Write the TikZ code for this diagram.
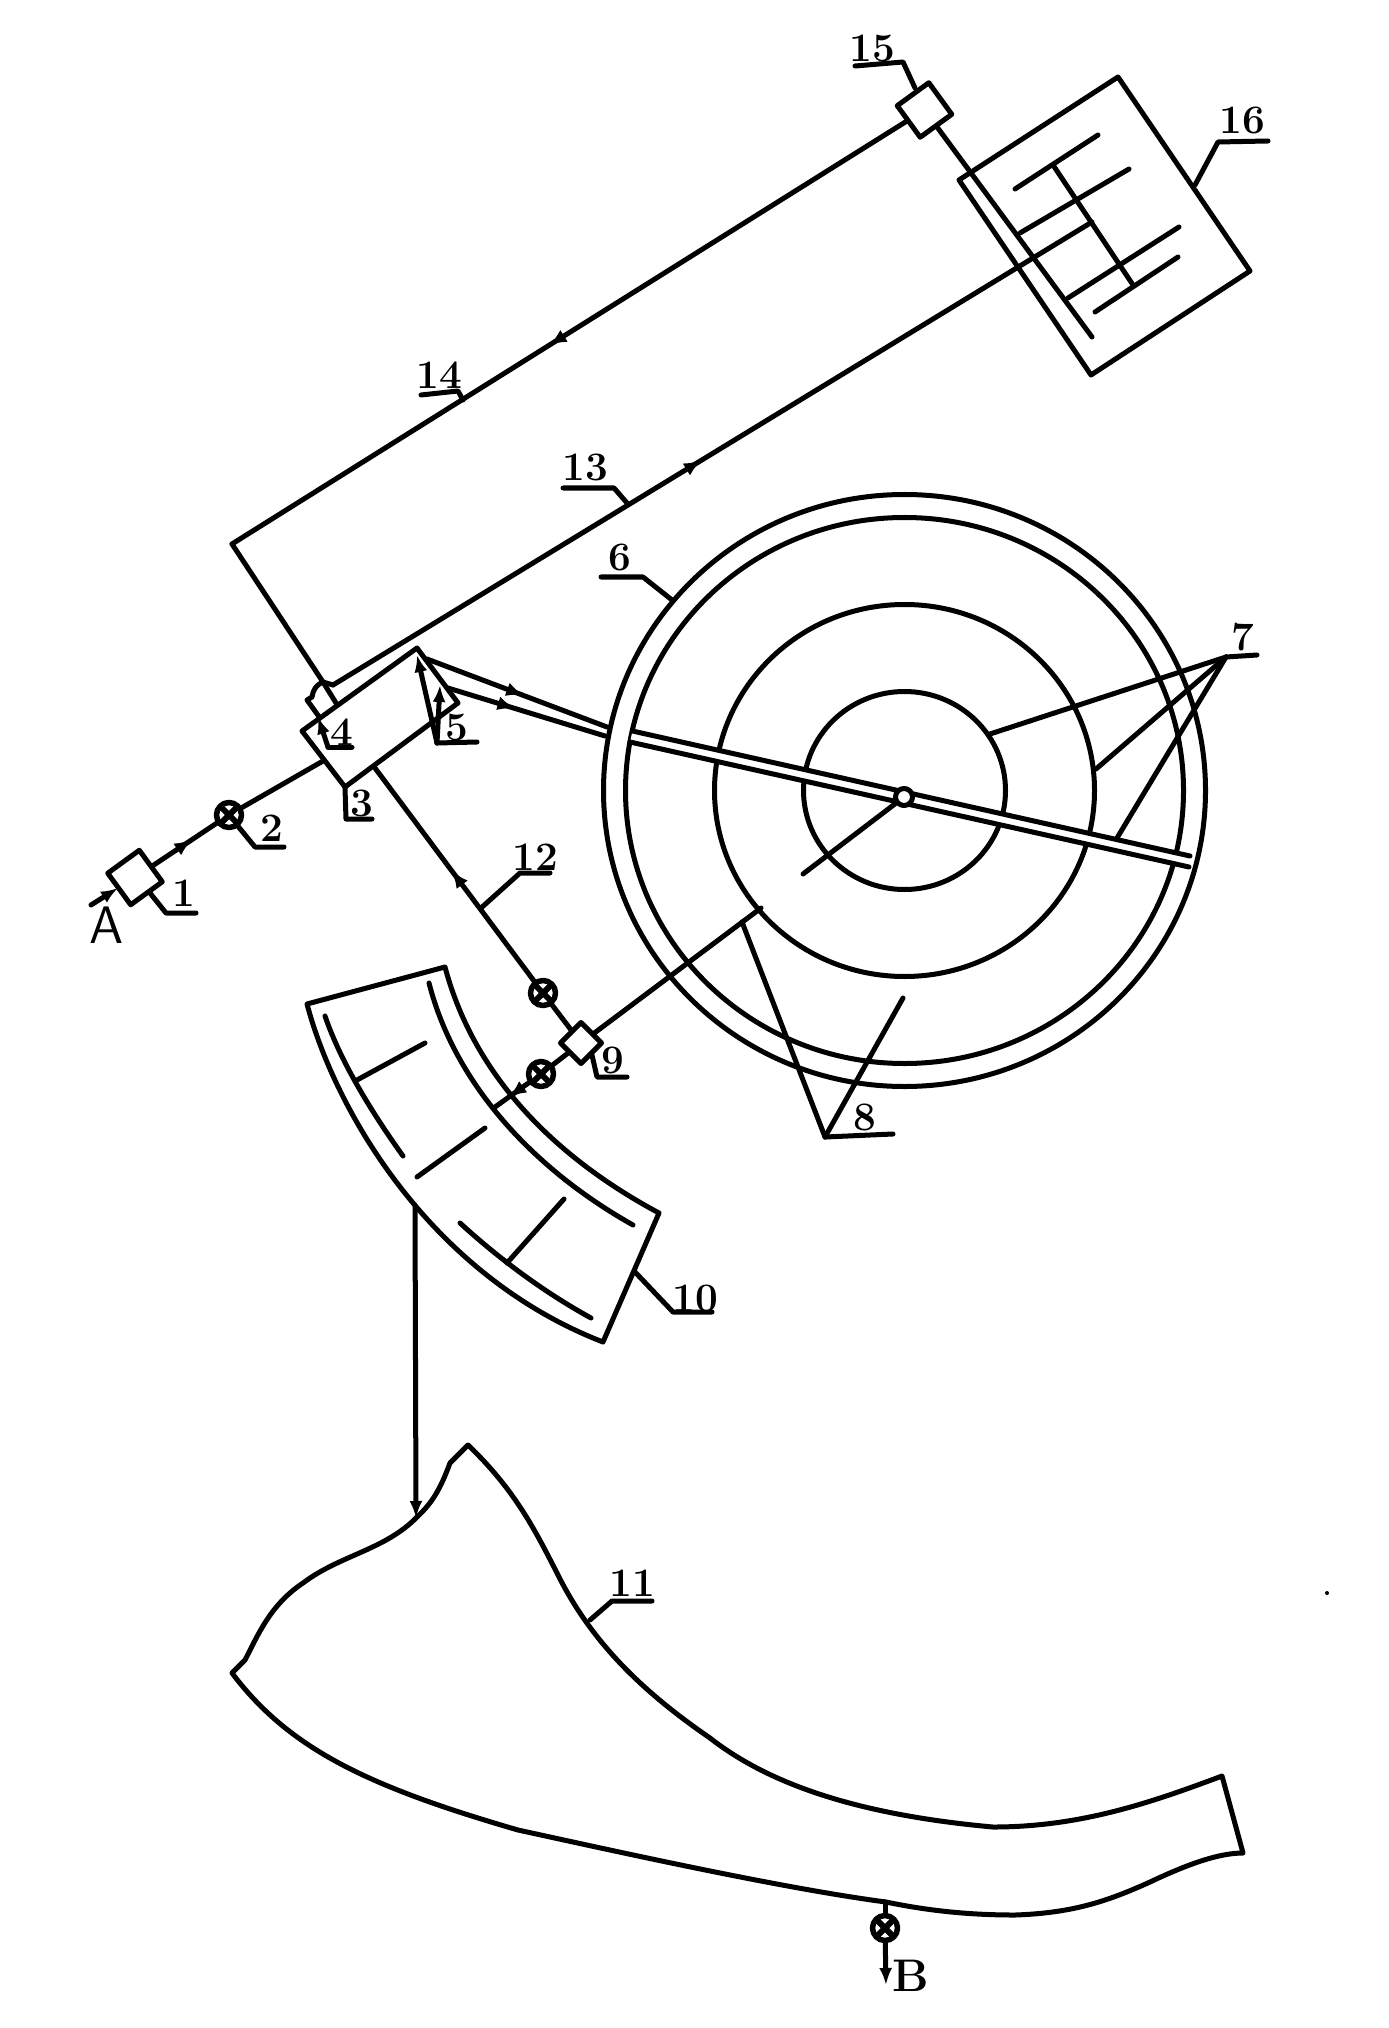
\documentclass[tikz,border=0pt]{standalone}
\usetikzlibrary{arrows.meta,decorations.markings}
\tikzset{
  pipe/.style={draw=black, line width=0.05cm},
  tiptop/.style={-{Latex[length=0.17cm,width=0.13cm]}},
  midtip/.style={postaction={decorate}, decoration={markings,
      mark=at position #1 with {\arrow{Latex[length=0.18cm,width=0.14cm]}}}},
  unit/.style={draw=black, line width=0.05cm, fill=white, rectangle, rotate=36,
      minimum size=0.39cm, inner sep=0pt},
  valve/.style={draw=black, line width=0.055cm, fill=white, circle, minimum size=0.25cm,
      inner sep=0pt, path picture={
        \draw[line width=0.06cm] (path picture bounding box.north east) -- (path picture bounding box.south west);
        \draw[line width=0.06cm] (path picture bounding box.north west) -- (path picture bounding box.south east);}},
  tag/.style={font=\bfseries\fontsize{11.5}{12}\selectfont, inner sep=0pt},
}
\begin{document}
\begin{tikzpicture}[x=0.01cm, y=-0.01cm, line join=round, line cap=round]
  \useasboundingbox (0,0) rectangle (1388,2028);
  % rings
  \coordinate (mid) at (904.5,790.5);
  \draw[pipe] (mid) ellipse [x radius=301, y radius=296];
  \draw[pipe] (mid) ellipse [x radius=279, y radius=273];
  \draw[pipe] (mid) ellipse [x radius=190, y radius=186];
  \draw[pipe] (mid) ellipse [x radius=101, y radius=99];
  % shaft through the rings
  \coordinate (sa) at (632.5,731);
  \coordinate (sb) at (1190,856);
  \coordinate (sc) at (630,742);
  \coordinate (sd) at (1189,867);
  \fill[white] (sa) -- (sb) -- (sd) -- (sc) -- cycle;
  \draw[pipe] (sa) -- (sb);
  \draw[pipe] (sc) -- (sd);
  \node[draw=black, line width=0.05cm, fill=white, circle, minimum size=0.17cm, inner sep=0pt] (hub) at (904,797) {};
  \coordinate (armend) at (803,874);
  \path[pipe] (hub) edge (armend);
  % units and valves
  \node[unit] (box1) at (135,877.5) {};
  \node[unit, rotate=9, minimum size=0.29cm] (box9) at (581,1043) {};
  \node[unit] (box15) at (924.5,110) {};
  \node[valve] (vlv2) at (229,815) {};
  \node[valve] (vlv9a) at (543,993) {};
  \node[valve] (vlv9b) at (541,1074) {};
  \node[valve] (vlvb) at (885,1928) {};
  % inlet
  \coordinate (ina) at (91,905);
  \coordinate (inb) at (118,888);
  \coordinate (boxin) at (323,761);
  \path[pipe] (ina) edge[tiptop] (inb);
  \path[pipe] (box1) edge[midtip=0.62] (vlv2);
  \path[pipe] (vlv2) edge (boxin);
  % box 3
  \coordinate (c3a) at (302,731);
  \coordinate (c3b) at (417,648);
  \coordinate (c3c) at (458,703);
  \coordinate (c3d) at (345,787);
  \draw[pipe] (c3a) -- (c3b) -- (c3c) -- (c3d) -- cycle;
  % box 4
  \coordinate (c4a) at (323,682);
  \coordinate (c4b) at (312,697);
  \coordinate (c4c) at (307,700);
  \coordinate (c4d) at (320,718);
  \coordinate (c4e) at (336,703);
  \draw[pipe] (c4e) -- (c4a) .. controls (316,685) and (313,690) .. (c4b) -- (c4c) -- (c4d);
  % long pipes
  \coordinate (corner) at (232,544);
  \coordinate (top13) at (333,685);
  \coordinate (end13) at (1092,222);
  \path[pipe] (c4a) edge (corner);
  \path[pipe] (box15) edge[midtip=0.53] (corner);
  \draw[pipe] (c4a) -- (top13);
  \path[pipe] (top13) edge[midtip=0.486] (end13);
  % pipes to the shaft
  \coordinate (p6a) at (427,659);
  \coordinate (p6b) at (607,727);
  \coordinate (p6c) at (448,688);
  \coordinate (p6d) at (605,736);
  \path[pipe] (p6a) edge[midtip=0.54] (p6b);
  \path[pipe] (p6c) edge[midtip=0.43] (p6d);
  % pipe 12 and feed 8
  \coordinate (p12a) at (375,768);
  \coordinate (p8a) at (761,908);
  \coordinate (p10a) at (495,1107);
  \path[pipe] (vlv9a) edge[midtip=0.52] (p12a);
  \path[pipe] (vlv9a) edge (box9);
  \path[pipe] (box9) edge (p8a);
  \path[pipe] (box9) edge (vlv9b);
  \path[pipe] (vlv9b) edge[midtip=0.6] (p10a);
  % box 16
  \coordinate (q1) at (1118,77);
  \coordinate (q2) at (1250,271);
  \coordinate (q3) at (1091,375);
  \coordinate (q4) at (959,180);
  \coordinate (rail) at (1092,337);
  \draw[pipe] (q1) -- (q2) -- (q3) -- (q4) -- cycle;
  \path[pipe] (box15) edge (rail);
  \coordinate (ra) at (1098,135);
  \coordinate (rb) at (1015,189);
  \coordinate (sp1) at (1053,165);
  \coordinate (sp2) at (1133,285);
  \coordinate (rc) at (1129,169);
  \coordinate (rd) at (1020,233);
  \coordinate (re) at (1179,227);
  \coordinate (rf) at (1068,298);
  \coordinate (rg) at (1178,257);
  \coordinate (rh) at (1095,312);
  \path[pipe] (ra) edge (rb);
  \path[pipe] (sp1) edge (sp2);
  \path[pipe] (rc) edge (rd);
  \path[pipe] (re) edge (rf);
  \path[pipe] (rg) edge (rh);
  % bed 10
  \draw[pipe] (445,967) -- (307,1004) .. controls (335,1110) and (430,1275) .. (603,1342)
      -- (659,1213) .. controls (560,1160) and (475,1080) .. (445,967);
  \draw[pipe] (325,1016) .. controls (340,1060) and (370,1110) .. (403,1156);
  \draw[pipe] (429,983) .. controls (455,1085) and (535,1170) .. (633,1225);
  \draw[pipe] (460,1223) .. controls (495,1255) and (540,1290) .. (591,1318);
  \coordinate (b1) at (357,1080);
  \coordinate (b2) at (425,1043);
  \coordinate (b3) at (485,1128);
  \coordinate (b4) at (417,1177);
  \coordinate (b5) at (507,1263);
  \coordinate (b6) at (564,1199);
  \path[pipe] (b1) edge (b2);
  \path[pipe] (b3) edge (b4);
  \path[pipe] (b5) edge (b6);
  % hopper 11
  \coordinate (drop) at (415,1205);
  \coordinate (land) at (416,1518);
  \path[pipe] (drop) edge[tiptop] (land);
  \draw[pipe] (1222,1776) .. controls (1150,1803) and (1080,1827) .. (993,1827)
      .. controls (860,1815) and (770,1785) .. (710,1738)
      .. controls (640,1690) and (590,1640) .. (557,1573)
      .. controls (535,1530) and (515,1490) .. (468,1445)
      -- (450,1463) .. controls (440,1490) and (432,1503) .. (417,1517)
      .. controls (385,1550) and (340,1555) .. (303,1583)
      .. controls (270,1605) and (258,1635) .. (245,1660) -- (232,1673)
      .. controls (290,1750) and (370,1787) .. (518,1830)
      .. controls (610,1850) and (780,1888) .. (886,1902)
      .. controls (925,1910) and (965,1915) .. (1015,1915)
      .. controls (1075,1913) and (1110,1900) .. (1150,1882)
      .. controls (1190,1863) and (1220,1853) .. (1243,1853) -- cycle;
  \coordinate (outa) at (885,1902);
  \coordinate (outb) at (886,1985);
  \path[pipe] (outa) edge (vlvb);
  \path[pipe] (vlvb) edge[tiptop] (outb);
  \fill (1327,1593) circle [radius=2];
  % tags
  \node[tag] (tag1) at (184,893) {1};
  \draw[pipe] (150,893) -- (166,913) -- (196,913);
  \node[tag] (tag2) at (272,828) {2};
  \draw[pipe] (237,825) -- (255,847) -- (284,847);
  \node[tag] (tag3) at (362,803) {3};
  \draw[pipe] (345,788) -- (346,819) -- (372,819);
  \node[tag] (tag4) at (342,732) {4};
  \coordinate (t4) at (328,747);
  \coordinate (t4a) at (318,717);
  \path[pipe] (t4) edge[tiptop] (t4a);
  \draw[pipe] (t4) -- (352,747);
  \node[tag] (tag5) at (457,727) {5};
  \coordinate (t5) at (437,743);
  \coordinate (t5a) at (417,655);
  \coordinate (t5b) at (440,685);
  \path[pipe] (t5) edge[tiptop] (t5a);
  \path[pipe] (t5) edge[tiptop] (t5b);
  \draw[pipe] (t5) -- (477,742);
  \node[tag] (tag6) at (620,557) {6};
  \draw[pipe] (672,600) -- (643,577) -- (601,577);
  \node[tag] (tag7) at (1243,637) {7};
  \coordinate (t7) at (1226,657);
  \coordinate (t7a) at (990,734);
  \coordinate (t7b) at (1096,769);
  \coordinate (t7c) at (1117,838);
  \path[pipe] (t7) edge (t7a);
  \path[pipe] (t7) edge (t7b);
  \path[pipe] (t7) edge (t7c);
  \draw[pipe] (t7) -- (1257,655);
  \node[tag] (tag8) at (865,1117) {8};
  \coordinate (t8) at (825,1137);
  \coordinate (t8a) at (742,922);
  \coordinate (t8b) at (903,998);
  \path[pipe] (t8) edge (t8a);
  \path[pipe] (t8) edge (t8b);
  \draw[pipe] (t8) -- (893,1134);
  \node[tag] (tag9) at (613,1060) {9};
  \draw[pipe] (592,1055) -- (597,1077) -- (627,1077);
  \node[tag] (tag10) at (695,1298) {10};
  \draw[pipe] (635,1272) -- (673,1312) -- (712,1312);
  \node[tag] (tag11) at (632,1583) {11};
  \draw[pipe] (590,1620) -- (612,1601) -- (652,1601);
  \node[tag] (tag12) at (535,857) {12};
  \draw[pipe] (481,908) -- (520,873) -- (550,873);
  \node[tag] (tag13) at (585,467) {13};
  \draw[pipe] (627,503) -- (614,488) -- (563,488);
  \node[tag] (tag14) at (439,375) {14};
  \draw[pipe] (463,400) -- (458,391) -- (421,395);
  \node[tag] (tag15) at (872,48) {15};
  \draw[pipe] (915,88) -- (903,62) -- (855,66);
  \node[tag] (tag16) at (1242,120) {16};
  \draw[pipe] (1195,185) -- (1218,142) -- (1268,141);
  \node[font=\sffamily\fontsize{15}{15}\selectfont, inner sep=0pt] (inA) at (107,925) {A};
  \node[font=\bfseries\fontsize{13}{13}\selectfont, inner sep=0pt] (outB) at (911,1976) {B};
\end{tikzpicture}
\end{document}
